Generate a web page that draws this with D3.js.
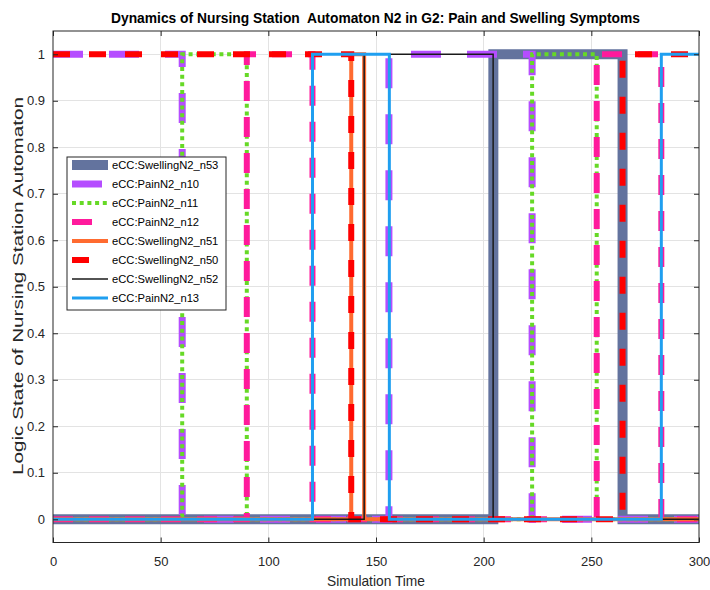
<!DOCTYPE html>
<html>
<head>
<meta charset="utf-8">
<script src="https://cdn.jsdelivr.net/npm/d3@7"></script>
<style>
  html, body { margin: 0; padding: 0; background: #fff; }
  svg { display: block; }
  text { font-family: "Liberation Sans", Arial, Helvetica, sans-serif; }
</style>
</head>
<body>
<svg id="chart" width="710" height="590"></svg>
<script>
// ---------------- data ----------------
const titleText = "Dynamics of Nursing Station  Automaton N2 in G2: Pain and Swelling Symptoms";
const xLabelText = "Simulation Time";
const yLabelText = "Logic State of Nursing Station Automaton";

const xTicks = [0, 50, 100, 150, 200, 250, 300];
const yTicks = [0, 0.1, 0.2, 0.3, 0.4, 0.5, 0.6, 0.7, 0.8, 0.9, 1];
const yTickLabels = ["0", "0.1", "0.2", "0.3", "0.4", "0.5", "0.6", "0.7", "0.8", "0.9", "1"];

const seriesNames = ["eCC:SwellingN2_n53", "eCC:PainN2_n10", "eCC:PainN2_n11", "eCC:PainN2_n12",
                     "eCC:SwellingN2_n51", "eCC:SwellingN2_n50", "eCC:SwellingN2_n52", "eCC:PainN2_n13"];

// step breakpoints (time, logic state held until next time)
const tN53 = [0, 204.5, 264.5, 300];            const vN53 = [0, 1, 0, 0];
const tN10 = [0, 60, 156, 222.5, 300];          const vN10 = [1, 0, 1, 0, 0];
const tN11 = [0, 60, 90, 222.5, 252.5, 300];    const vN11 = [0, 1, 0, 1, 0, 0];
const tN12 = [0, 90, 120.5, 252.5, 282.5, 300]; const vN12 = [0, 1, 0, 1, 0, 0];
const tN51 = [0, 138.5, 144.5, 300];            const vN51 = [0, 1, 0, 0];
const tN50 = [0, 138.5, 264.5, 300];            const vN50 = [1, 0, 1, 1];
const tN52 = [0, 144.5, 204.4, 300];            const vN52 = [0, 1, 0, 0];
const tN13 = [0, 120.5, 156.2, 282.5, 300];     const vN13 = [0, 1, 0, 1, 1];

const seriesTimes  = [tN53, tN10, tN11, tN12, tN51, tN50, tN52, tN13];
const seriesValues = [vN53, vN10, vN11, vN12, vN51, vN50, vN52, vN13];

// styles
const seriesColors = ["#63739e", "#b54dff", "#66d926", "#ff1a9c", "#ff6b30", "#ff0000", "#1a1a1a", "#1f9ff0"];
const seriesWidths = [10, 7, 4, 6, 4, 6, 1.5, 3];
const seriesDash   = [null, "30,26", "4,3.7", "20,16", null, "17,19", null, null];

// ---------------- layout ----------------
const svg = d3.select("#chart");
const pLeft = 53, pRight = 699, pTop = 31, pBottom = 542.5;

const x = d3.scaleLinear().domain([0, 300]).range([pLeft, pRight]);
const y = d3.scaleLinear().domain([-0.05, 1.05]).range([pBottom, pTop]);

// clip
svg.append("defs").append("clipPath").attr("id", "plotclip")
  .append("rect").attr("x", pLeft).attr("y", pTop).attr("width", pRight - pLeft).attr("height", pBottom - pTop);

// background
svg.append("rect").attr("x", pLeft).attr("y", pTop).attr("width", pRight - pLeft).attr("height", pBottom - pTop)
  .attr("fill", "#fff");

// grid
const grid = svg.append("g");
grid.selectAll("line.vg").data(xTicks.slice(1, -1)).enter().append("line")
  .attr("x1", d => x(d)).attr("x2", d => x(d)).attr("y1", pTop).attr("y2", pBottom)
  .attr("stroke", "#e3e3e3").attr("stroke-width", 1).attr("shape-rendering", "crispEdges");
grid.selectAll("line.hg").data(yTicks).enter().append("line")
  .attr("x1", pLeft).attr("x2", pRight).attr("y1", d => y(d)).attr("y2", d => y(d))
  .attr("stroke", "#e3e3e3").attr("stroke-width", 1).attr("shape-rendering", "crispEdges");

// lines
const lineGen = d3.line().x(d => x(d[0])).y(d => y(d[1])).curve(d3.curveStepAfter);
const plot = svg.append("g").attr("clip-path", "url(#plotclip)");
seriesNames.forEach((name, i) => {
  const pts = seriesTimes[i].map((t, k) => [t, seriesValues[i][k]]);
  const p = plot.append("path").datum(pts)
    .attr("d", lineGen)
    .attr("fill", "none")
    .attr("stroke", seriesColors[i])
    .attr("stroke-width", seriesWidths[i])
    .attr("stroke-linejoin", "miter")
    .attr("stroke-linecap", "butt");
  if (seriesDash[i]) p.attr("stroke-dasharray", seriesDash[i]);
});

// axes (box, ticks inside on all sides)
const axisColor = "#262626";
const xAxisB = d3.axisBottom(x).tickValues(xTicks).tickSizeInner(-5).tickSizeOuter(0).tickPadding(14)
  .tickFormat(d3.format("d"));
const gxb = svg.append("g").attr("transform", `translate(0,${pBottom})`).call(xAxisB);
const xAxisT = d3.axisTop(x).tickValues(xTicks).tickSizeInner(-5).tickSizeOuter(0).tickFormat("");
const gxt = svg.append("g").attr("transform", `translate(0,${pTop})`).call(xAxisT);
const yAxisL = d3.axisLeft(y).tickValues(yTicks).tickSizeInner(-5).tickSizeOuter(0).tickPadding(8)
  .tickFormat((d, i) => yTickLabels[i]);
const gyl = svg.append("g").attr("transform", `translate(${pLeft},0)`).call(yAxisL);
const yAxisR = d3.axisRight(y).tickValues(yTicks).tickSizeInner(-5).tickSizeOuter(0).tickFormat("");
const gyr = svg.append("g").attr("transform", `translate(${pRight},0)`).call(yAxisR);

[gxb, gxt, gyl, gyr].forEach(g => {
  g.select(".domain").remove();
  g.selectAll(".tick line").attr("stroke", axisColor).attr("stroke-width", 1);
  g.selectAll(".tick text").attr("fill", axisColor).style("font-size", "13px")
    .style("font-family", '"Liberation Sans", Arial, sans-serif');
});
svg.append("rect").attr("x", pLeft).attr("y", pTop).attr("width", pRight - pLeft).attr("height", pBottom - pTop)
  .attr("fill", "none").attr("stroke", axisColor).attr("stroke-width", 1);

// title and labels
svg.append("text").attr("x", 375.5).attr("y", 23).attr("text-anchor", "middle")
  .attr("font-weight", "bold").style("font-size", "15px").attr("fill", "#000")
  .attr("xml:space", "preserve").style("white-space", "pre")
  .attr("textLength", 529).attr("lengthAdjust", "spacingAndGlyphs")
  .text(titleText);
svg.append("text").attr("x", 376).attr("y", 586).attr("text-anchor", "middle")
  .style("font-size", "15px").attr("fill", axisColor)
  .attr("textLength", 98).attr("lengthAdjust", "spacingAndGlyphs")
  .text(xLabelText);
svg.append("text").attr("transform", `translate(23,286) rotate(-90)`).attr("text-anchor", "middle")
  .style("font-size", "14.5px").attr("fill", axisColor)
  .attr("textLength", 378).attr("lengthAdjust", "spacingAndGlyphs")
  .text(yLabelText);

// legend
const lg = svg.append("g");
const lgX = 67, lgY = 157, lgW = 159, lgH = 153, rowH = 19, row0 = 165;
lg.append("rect").attr("x", lgX).attr("y", lgY).attr("width", lgW).attr("height", lgH)
  .attr("fill", "#fff").attr("stroke", axisColor).attr("stroke-width", 1);
seriesNames.forEach((name, i) => {
  const yy = row0 + i * rowH;
  const l = lg.append("line").attr("x1", 72).attr("x2", 108).attr("y1", yy).attr("y2", yy)
    .attr("stroke", seriesColors[i]).attr("stroke-width", seriesWidths[i]).attr("stroke-linecap", "butt");
  if (seriesDash[i]) l.attr("stroke-dasharray", seriesDash[i]);
  lg.append("text").attr("x", 112).attr("y", yy).attr("dy", "0.36em")
    .style("font-size", "11.2px").attr("fill", "#000").text(name);
});
</script>
</body>
</html>
